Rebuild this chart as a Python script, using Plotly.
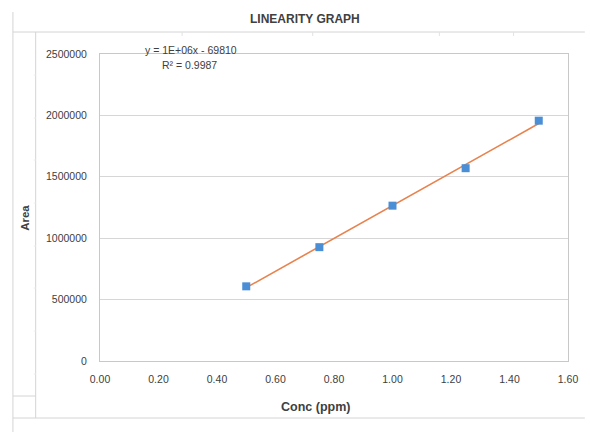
import numpy as np
import plotly.graph_objects as go

conc = [0.50, 0.75, 1.00, 1.25, 1.50]
area = [608000, 927000, 1265000, 1570000, 1957000]
x_ticks = [0.0, 0.2, 0.4, 0.6, 0.8, 1.0, 1.2, 1.4, 1.6]
y_ticks = [0, 500000, 1000000, 1500000, 2000000, 2500000]

slope, intercept = np.polyfit(conc, area, 1)
fit_x = [min(conc), max(conc)]
fit_y = [slope * v + intercept for v in fit_x]

W, H = 590, 432
PL, PR, PT, PB = 100, 573, 54, 361        # plot area in window pixels
L, T, R, B = PL, PT, W - PR, H - PB
pw, ph = PR - PL, PB - PT

def px(x):
    return (x - PL) / pw

def py(y):
    return (PB - y) / ph

FONT = "Liberation Sans Narrow, Arial Narrow, Liberation Sans, Arial, sans-serif"

fig = go.Figure()
fig.add_trace(go.Scatter(x=fit_x, y=fit_y, mode="lines",
                         line=dict(color="#E8834F", width=1.6),
                         showlegend=False, hoverinfo="skip"))
fig.add_trace(go.Scatter(x=conc, y=area, mode="markers",
                         marker=dict(symbol="square", size=8, color="#4A8ED6"),
                         showlegend=False))

line_col = "#d4d4d4"
shapes = []
def seg(x0, y0, x1, y1, col=line_col, w=1):
    shapes.append(dict(type="line", xref="paper", yref="paper",
                       x0=px(x0), y0=py(y0), x1=px(x1), y1=py(y1),
                       line=dict(color=col, width=w), layer="below"))

seg(12, 12, 12, 432)
seg(12, 32, 590, 32)
seg(35, 32, 35, 418)
seg(12, 396, 35, 396)
seg(12, 418, 590, 418)
for tx in [183, 315, 443, 518]:
    seg(tx, 32, tx, 36, col="#e2e2e2")
for ty in [75, 118, 160, 203, 246, 288, 331, 374]:
    seg(33, ty, 35, ty, col="#ececec")

def ann(text, x, y, size, angle=0):
    return dict(text=text, xref="paper", yref="paper", x=px(x), y=py(y),
                xanchor="center", yanchor="middle", showarrow=False,
                textangle=angle,
                font=dict(size=size, color="#404040", family=FONT))

annotations = [
    ann("<b>LINEARITY GRAPH</b>", 307, 19, 12),
    ann("y = 1E+06x - 69810", 192, 50, 10.5),
    ann("R² = 0.9987", 190, 65, 10.5),
    ann("<b>Area</b>", 24, 218, 11.5, -90),
    ann("<b>Conc (ppm)</b>", 318, 407, 12.5),
]

fig.update_layout(
    width=W, height=H,
    margin=dict(l=L, r=R, t=T, b=B, pad=0),
    paper_bgcolor="white", plot_bgcolor="white",
    shapes=shapes, annotations=annotations,
    font=dict(family=FONT, size=10.5, color="#404040"),
    xaxis=dict(range=[0, 1.6], tickvals=x_ticks, tickformat=".2f",
               showgrid=False, zeroline=False, showline=True, mirror=True,
               linecolor="#c8c8c8", linewidth=1, ticks="outside",
               ticklen=8, tickcolor="rgba(0,0,0,0)",
               tickfont=dict(size=10.5, color="#404040")),
    yaxis=dict(range=[0, 2500000], tickvals=y_ticks, tickformat="d",
               showgrid=True, gridcolor="#d6d6d6", gridwidth=1,
               zeroline=False, showline=True, mirror=True,
               linecolor="#c8c8c8", linewidth=1, ticks="outside",
               ticklen=10, tickcolor="rgba(0,0,0,0)",
               tickfont=dict(size=10.5, color="#404040")),
)

fig.write_html("out.html",
               config={"displayModeBar": False},
               post_script="document.body.style.margin='0';"
                           "document.body.style.overflow='hidden';")
